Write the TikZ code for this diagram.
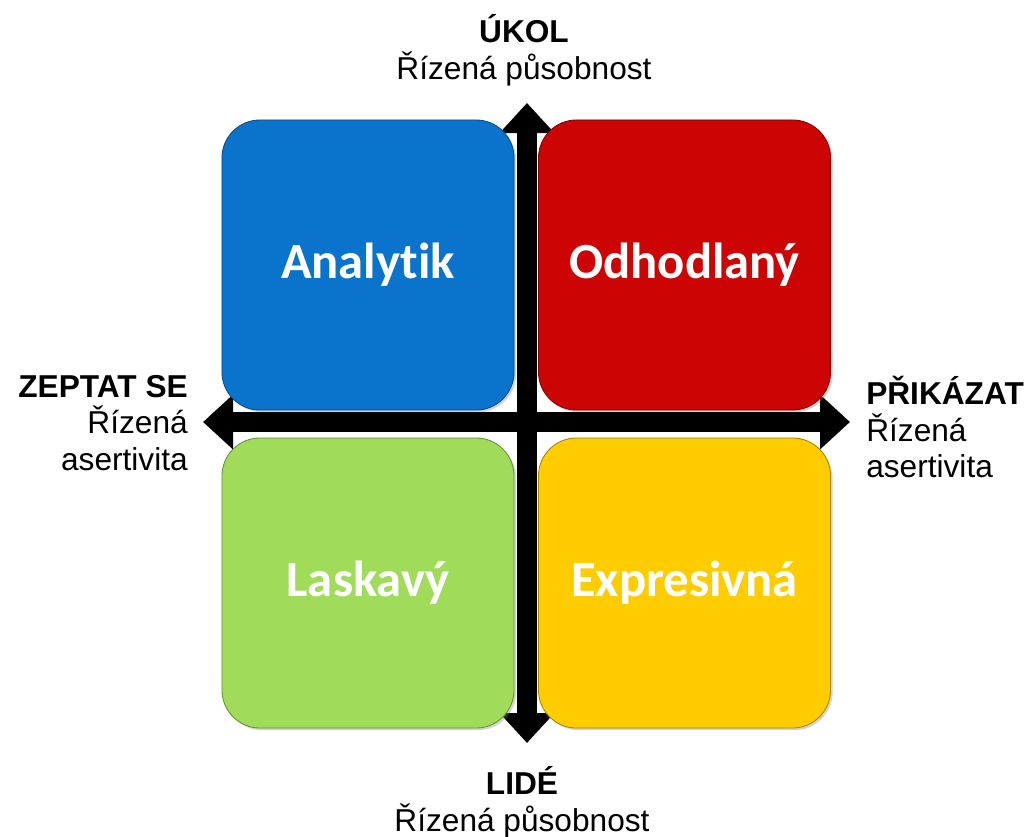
\documentclass[tikz,border=0pt]{standalone}
\usepackage{fontspec}
\setmainfont{Liberation Sans}
\newfontfamily\quadfont[Ligatures=NoCommon]{Carlito}
\usetikzlibrary{arrows.meta,shadows}
\definecolor{qblue}{RGB}{10,116,204}
\definecolor{qred}{RGB}{204,4,4}
\definecolor{qgreen}{RGB}{160,220,90}
\definecolor{qyellow}{RGB}{255,204,0}
\begin{document}
\begin{tikzpicture}[x=0.025cm,y=-0.025cm,
  quad/.style={draw=#1!65!black, line width=0.6pt, fill=#1, rounded corners=0.95cm,
    minimum width=7.3cm, minimum height=7.25cm, text=white,
    font=\quadfont\bfseries\fontsize{36}{42}\selectfont,
    drop shadow={opacity=0.35,shadow xshift=1.5pt,shadow yshift=-1.5pt}},
  axis/.style={line width=0.5cm,
    {Triangle[width=1.325cm,length=0.75cm]}-{Triangle[width=1.325cm,length=0.75cm]}},
  lbl/.style={inner sep=0pt, font=\fontsize{22.5}{26}\selectfont}]
\useasboundingbox (0,0) rectangle (1029,836);

\coordinate (top) at (527,103);
\coordinate (bottom) at (527,743);
\coordinate (left) at (203,422);
\coordinate (right) at (850,422);
\path[draw,axis] (top) -- (bottom);
\path[draw,axis] (left) -- (right);

\node[quad=qblue] (an) at (368,265) {Analytik};
\node[quad=qred] (od) at (684.5,265) {Odhodlaný};
\node[quad=qgreen] (la) at (368,583) {Laskavý};
\node[quad=qyellow] (ex) at (684.5,583) {Expresivná};

\node[lbl, align=center] (ukol) at (524,50) {\textbf{ÚKOL}\\Řízená působnost};
\node[lbl, align=center] (lide) at (522,802) {\textbf{LIDÉ}\\Řízená působnost};
\node[lbl, align=right, anchor=east] (zeptat) at (188,423) {\textbf{ZEPTAT SE}\\Řízená\\asertivita};
\node[lbl, align=left, anchor=west] (prikazat) at (866,427) {\textbf{PŘIKÁZAT}\\Řízená\\asertivita};
\end{tikzpicture}
\end{document}
